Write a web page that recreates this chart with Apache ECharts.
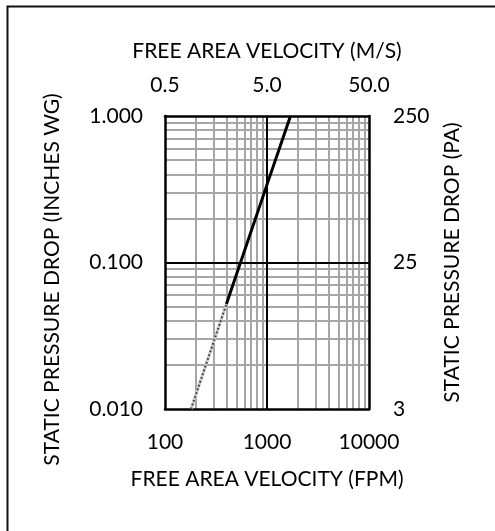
<!DOCTYPE html>
<html>
<head>
<meta charset="utf-8">
<script src="https://cdn.jsdelivr.net/npm/echarts@6/dist/echarts.min.js"></script>
<style>
html,body{margin:0;padding:0;background:#fff;}
#chart{width:495px;height:531px;}
</style>
</head>
<body>
<div id="chart"></div>
<script>
// Data
var solidCurve = [[400, 0.052], [1000, 0.34], [1700, 1.0]];
var dottedCurve = [[180, 0.01], [400, 0.052]];

// Tick labels
var topTickLabels = ['0.5', '5.0', '50.0'];
var rightTickLabels = ['3', '25', '250'];
var leftTickLabels = ['0.010', '0.100', '1.000'];
var bottomTickLabels = ['100', '1000', '10000'];

// Gridline values
var xMinorGrid = [200, 300, 400, 500, 600, 700, 800, 900, 2000, 3000, 4000, 5000, 6000, 7000, 8000, 9000];
var xMajorGrid = [1000];
var yMinorGrid = [0.02, 0.03, 0.04, 0.05, 0.06, 0.07, 0.08, 0.09, 0.2, 0.3, 0.4, 0.5, 0.6, 0.7, 0.8, 0.9];
var yMajorGrid = [0.1];

var FONT = 'Lato';
var FS = 21;

var chart = echarts.init(document.getElementById('chart'));

function axisCommon() {
  return {
    type: 'log', logBase: 10,
    axisLine: { show: true, lineStyle: { color: '#000', width: 2.5 } },
    axisTick: { show: false },
    splitLine: { show: false },
    minorSplitLine: { show: false },
    z: 6,
    nameTextStyle: { color: '#000', fontFamily: FONT, fontSize: FS },
    axisLabel: { color: '#000', fontFamily: FONT, fontSize: FS }
  };
}

var xBottom = Object.assign(axisCommon(), {
  position: 'bottom', min: 100, max: 10000,
  name: 'FREE AREA VELOCITY (FPM)', nameLocation: 'middle', nameGap: 60
});
xBottom.axisLabel.margin = 23;
xBottom.axisLabel.formatter = function (v, i) { return bottomTickLabels[i]; };

var xTop = Object.assign(axisCommon(), {
  position: 'top', min: 100, max: 10000,
  name: 'FREE AREA VELOCITY (M/S)', nameLocation: 'middle', nameGap: 54
});
xTop.axisLabel.margin = 20;
xTop.axisLabel.formatter = function (v, i) { return topTickLabels[i]; };

var yLeft = Object.assign(axisCommon(), {
  position: 'left', min: 0.01, max: 1,
  name: 'STATIC PRESSURE DROP (INCHES WG)', nameLocation: 'middle', nameGap: 102, nameRotate: 90
});
yLeft.axisLabel.margin = 22;
yLeft.axisLabel.formatter = function (v, i) { return leftTickLabels[i]; };
yLeft.nameTextStyle.padding = [0, 34, 0, 0];

var yRight = Object.assign(axisCommon(), {
  position: 'right', min: 0.01, max: 1,
  name: 'STATIC PRESSURE DROP (PA)', nameLocation: 'middle', nameGap: 73, nameRotate: 90
});
yRight.axisLabel.margin = 24;
yRight.axisLabel.formatter = function (v, i) { return rightTickLabels[i]; };

function gridLines(vals, key, color, width, z) {
  return {
    silent: true, symbol: ['none', 'none'], animation: false, z: z,
    label: { show: false },
    lineStyle: { color: color, width: width, type: 'solid' },
    emphasis: { disabled: true },
    data: vals.map(function (v) { var o = {}; o[key] = v; return o; })
  };
}

var option = {
  backgroundColor: '#fff',
  animation: false,
  grid: { left: 165, right: 126, top: 116, bottom: 122, containLabel: false },
  xAxis: [xBottom, xTop],
  yAxis: [yLeft, yRight],
  graphic: [{
    type: 'rect', left: 5, top: 4, shape: { x: 0, y: 0, width: 600, height: 600 },
    style: { fill: 'none', stroke: '#111', lineWidth: 2 }, silent: true, z: -1
  }],
  series: [
    { type: 'line', xAxisIndex: 0, yAxisIndex: 0, data: [], z: 1,
      markLine: gridLines(xMinorGrid, 'xAxis', '#a6a6a6', 2, 1) },
    { type: 'line', xAxisIndex: 0, yAxisIndex: 0, data: [], z: 1,
      markLine: gridLines(yMinorGrid, 'yAxis', '#a6a6a6', 2, 1) },
    { type: 'line', xAxisIndex: 0, yAxisIndex: 0, data: [], z: 2,
      markLine: gridLines(xMajorGrid, 'xAxis', '#000', 2, 2) },
    { type: 'line', xAxisIndex: 0, yAxisIndex: 0, data: [], z: 2,
      markLine: gridLines(yMajorGrid, 'yAxis', '#000', 2, 2) },
    { type: 'line', xAxisIndex: 0, yAxisIndex: 0, data: dottedCurve, z: 7,
      showSymbol: false, symbol: 'none',
      lineStyle: { color: '#c8c8c8', width: 3 } },
    { type: 'line', xAxisIndex: 0, yAxisIndex: 0, data: dottedCurve, z: 8,
      showSymbol: false, symbol: 'none',
      lineStyle: { color: '#333', width: 2, type: [1.5, 2.5] } },
    { type: 'line', xAxisIndex: 0, yAxisIndex: 0, data: solidCurve, z: 9,
      showSymbol: false, symbol: 'none',
      lineStyle: { color: '#000', width: 3 } }
  ]
};
chart.setOption(option);
</script>
</body>
</html>
